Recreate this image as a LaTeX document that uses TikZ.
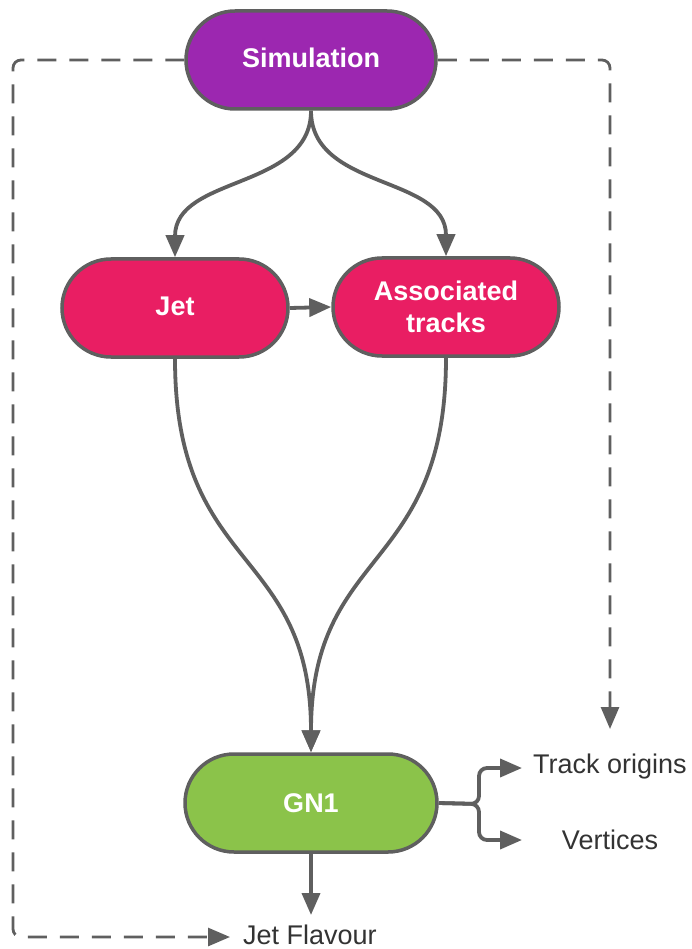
\documentclass[tikz,border=0pt]{standalone}
\usepackage{fontspec}
\setmainfont{Liberation Sans}
\usetikzlibrary{arrows.meta,shapes.misc}
\definecolor{simpurple}{HTML}{9C27B0}
\definecolor{inpink}{HTML}{E91E63}
\definecolor{gngreen}{HTML}{8BC34A}
\definecolor{edgegray}{HTML}{5F5F5F}
\definecolor{labelgray}{HTML}{333333}
\begin{document}
\begin{tikzpicture}[x=1pt,y=-1pt,
  box/.style={shape=rounded rectangle, draw=edgegray, line width=3.5pt,
    minimum height=98pt, text=white, align=center, inner sep=0pt,
    font=\fontsize{27}{32}\selectfont\bfseries},
  tip/.style={-{Triangle[length=22pt,width=18pt]}},
  flow/.style={draw=edgegray, line width=3.8pt, tip},
  dashflow/.style={draw=edgegray, line width=2.8pt, dash pattern=on 19pt off 13pt,
    rounded corners=8pt, tip},
  outlabel/.style={text=labelgray, font=\fontsize{27}{32}\selectfont, inner sep=0pt}
]
\fill[white] (0,0) rectangle (692,949);
\useasboundingbox (0,0) rectangle (692,949);

% main blocks
\node[box, fill=simpurple, minimum width=250pt] (sim) at (311,60) {\raisebox{4pt}{Simulation}};
\node[box, fill=inpink, minimum width=226pt] (jet) at (175,308) {\raisebox{3pt}{Jet}};
\node[box, fill=inpink, minimum width=226pt] (trk) at (446,307) {Associated\\tracks};
\node[box, fill=gngreen, minimum width=252pt] (gn) at (311,803) {GN1};

% output labels
\node[outlabel, anchor=base] (orig) at (610,773) {Track origins};
\node[outlabel, anchor=base] (vert) at (610,849) {Vertices};
\node[outlabel, anchor=base west] (flav) at (243,944) {Jet Flavour};

% free ends of the connectors
\coordinate (split) at (479,804);
\coordinate (origtip) at (522,768);
\coordinate (verttip) at (522,840);
\coordinate (flavtip) at (311,915);
\coordinate (flavdash) at (230,937);
\coordinate (lcorner) at (13,937);
\coordinate (truthtip) at (610,729);

% simulation feeds the inputs
\draw[flow] (sim.south) .. controls (311,190) and (175,175) .. (jet.north);
\draw[flow] (sim.south) .. controls (311,190) and (446,175) .. (trk.north);
\draw[flow] (jet.east) -- (trk.west);

% inputs into the network
\draw[flow] (jet.south) .. controls (175,575) and (311,545) .. (gn.north);
\draw[flow] (trk.south) .. controls (446,575) and (311,545) .. (gn.north);

% network outputs
\draw[flow] (gn.south) -- (flavtip);
\draw[flow, rounded corners=8pt] (gn.east) -- (split) |- (origtip);
\draw[flow, rounded corners=8pt] (gn.east) -- (split) |- (verttip);

% truth labels from simulation
\draw[dashflow] (sim.west) -| (lcorner) -- (flavdash);
\draw[dashflow] (sim.east) -| (truthtip);
\end{tikzpicture}
\end{document}
